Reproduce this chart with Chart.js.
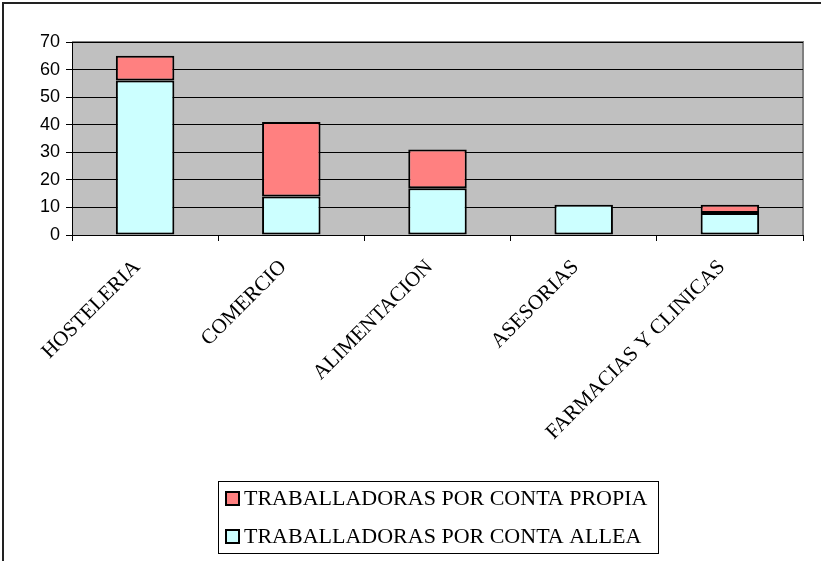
<!DOCTYPE html>
<html>
<head>
<meta charset="utf-8">
<script src="https://cdn.jsdelivr.net/npm/chart.js@4"></script>
<style>
  html, body { margin: 0; padding: 0; background: #fff; }
  #wrap { width: 821px; height: 561px; position: relative; }
</style>
</head>
<body>
<div id="wrap"><canvas id="chart"></canvas></div>
<script>
// Data
const categories = ['HOSTELERIA', 'COMERCIO', 'ALIMENTACION', 'ASESORIAS', 'FARMACIAS Y CLINICAS'];
const contaAllea = [56, 14, 17, 11, 8];
const contaPropia = [9, 27, 14, 0, 3];
const yTicks = [0, 10, 20, 30, 40, 50, 60, 70];

// Gray plot background, outer frame and boxed legend
const decorPlugin = {
  id: 'decor',
  beforeDraw(chart) {
    const { ctx, chartArea: a } = chart;
    ctx.save();
    ctx.fillStyle = '#C0C0C0';
    ctx.fillRect(a.left, a.top, a.right - a.left, a.bottom - a.top);
    ctx.strokeStyle = '#808080';
    ctx.lineWidth = 2;
    ctx.beginPath();
    ctx.moveTo(a.left, a.top);
    ctx.lineTo(a.right, a.top);
    ctx.lineTo(a.right, a.bottom);
    ctx.stroke();
    // outer frame (left and top only, as in the picture)
    ctx.strokeStyle = '#222';
    ctx.lineWidth = 2;
    ctx.beginPath();
    ctx.moveTo(3, chart.height);
    ctx.lineTo(3, 3);
    ctx.lineTo(chart.width, 3);
    ctx.stroke();
    ctx.restore();
  },
  afterDraw(chart) {
    const { ctx } = chart;
    const items = chart.data.datasets.slice().reverse();
    const box = { x: 218, y: 481, w: 440, h: 72 };
    ctx.save();
    ctx.strokeStyle = '#000';
    ctx.lineWidth = 1;
    ctx.strokeRect(box.x + 0.5, box.y + 0.5, box.w, box.h);
    ctx.font = '22px "Liberation Serif", "DejaVu Serif", serif';
    ctx.textBaseline = 'middle';
    items.forEach((ds, i) => {
      const cy = box.y + 17 + i * 38;
      ctx.fillStyle = ds.backgroundColor;
      ctx.fillRect(box.x + 8, cy - 6, 13, 13);
      ctx.lineWidth = 2;
      ctx.strokeRect(box.x + 8, cy - 6, 13, 13);
      ctx.fillStyle = '#000';
      ctx.fillText(ds.label, box.x + 26, cy + 1);
    });
    ctx.restore();
  }
};

new Chart(document.getElementById('chart'), {
  type: 'bar',
  data: {
    labels: categories,
    datasets: [
      {
        label: 'TRABALLADORAS POR CONTA ALLEA',
        data: contaAllea,
        backgroundColor: '#CCFFFF',
        borderColor: '#000',
        borderWidth: 2,
        borderSkipped: false,
        barPercentage: 0.4,
        categoryPercentage: 1
      },
      {
        label: 'TRABALLADORAS POR CONTA PROPIA',
        data: contaPropia,
        backgroundColor: '#FF8080',
        borderColor: '#000',
        borderWidth: 2,
        borderSkipped: false,
        barPercentage: 0.4,
        categoryPercentage: 1
      }
    ]
  },
  options: {
    responsive: true,
    maintainAspectRatio: false,
    animation: false,
    layout: { padding: { top: 42, right: 18, left: 0, bottom: 0 } },
    plugins: {
      legend: { display: false },
      tooltip: { enabled: false }
    },
    scales: {
      x: {
        stacked: true,
        offset: true,
        grid: {
          offset: true,
          drawOnChartArea: false,
          color: '#000',
          tickLength: 6
        },
        border: { color: '#000', width: 1 },
        ticks: {
          minRotation: 45,
          maxRotation: 45,
          color: '#000',
          padding: 14,
          labelOffset: -8,
          font: { family: '"Liberation Serif", "DejaVu Serif", serif', size: 21 }
        },
        afterFit(scale) { scale.height = 326; }
      },
      y: {
        stacked: true,
        min: 0,
        max: 70,
        afterBuildTicks(scale) { scale.ticks = yTicks.map(v => ({ value: v })); },
        grid: { color: '#000', lineWidth: 1, tickLength: 6 },
        border: { color: '#000', width: 1 },
        ticks: {
          color: '#000',
          padding: 6,
          font: { family: '"Liberation Sans", Arial, sans-serif', size: 18 }
        },
        afterFit(scale) { scale.width = 72; }
      }
    }
  },
  plugins: [decorPlugin]
});
</script>
</body>
</html>
